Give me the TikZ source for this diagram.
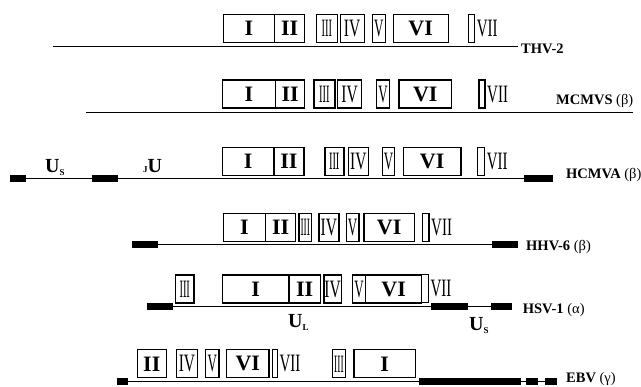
\documentclass[tikz,border=0pt]{standalone}
\usepackage{fontspec}
\setmainfont{Liberation Serif}
\usetikzlibrary{positioning}

\begin{document}
\begin{tikzpicture}[
    x=1pt, y=-1pt,
    gene/.style={draw, line width=1.2pt, anchor=north west, inner sep=0pt,
        minimum height=28pt},
    bnum/.style={gene, font=\fontsize{22}{22}\selectfont\bfseries},
    rnum/.style={gene, font=\fontsize{25}{25}\selectfont},
    tick/.style={gene, minimum width=6pt},
    seven/.style={inner sep=0pt, font=\fontsize{25}{25}\selectfont},
    vname/.style={anchor=base west, inner sep=0pt, font=\fontsize{14.5}{14.5}\selectfont\bfseries},
    ureg/.style={anchor=base west, inner sep=0pt, font=\fontsize{20}{20}\selectfont\bfseries},
    genome/.style={line width=1.3pt},
    rep/.style={line width=6.5pt}
]
\useasboundingbox (0,0) rectangle (641,387);

% THV-2
\draw[genome] (53,46.7) -- (518,46.7);
\node[bnum, minimum width=51.3pt] (thI) at (222.7,14) {I};
\node[bnum, minimum width=30pt] (thII) at (274,14) {II};
\node[rnum, minimum width=20.5pt] (thIII) at (316,14) {\scalebox{0.42}[1]{III}};
\node[rnum, minimum width=24pt] (thIV) at (339.5,14) {\scalebox{0.62}[1]{IV}};
\node[rnum, minimum width=12.5pt] (thV) at (372,14) {\scalebox{0.52}[1]{V}};
\node[bnum, minimum width=54.8pt] (thVI) at (392.7,14) {VI};
\node[tick] (thVII) at (468,14) {};
\node[seven, right=1.5pt of thVII] (thVIIt) {\scalebox{0.6}[1]{VII}};
\node[vname] (thName) at (521,53.3) {THV-2};

% MCMVS
\draw[genome] (86,112.7) -- (632.7,112.7);
\node[bnum, minimum width=53.3pt] (mcI) at (221.7,79.5) {I};
\node[bnum, minimum width=29pt] (mcII) at (275,79.5) {II};
\node[rnum, minimum width=21pt] (mcIII) at (313.3,79.5) {\scalebox{0.42}[1]{III}};
\node[rnum, minimum width=24pt] (mcIV) at (337,79.5) {\scalebox{0.62}[1]{IV}};
\node[rnum, minimum width=12.7pt] (mcV) at (376,79.5) {\scalebox{0.52}[1]{V}};
\node[bnum, minimum width=52.7pt] (mcVI) at (398.3,79.5) {VI};
\node[tick] (mcVII) at (478.3,79.5) {};
\node[seven, right=1.5pt of mcVII] (mcVIIt) {\scalebox{0.6}[1]{VII}};
\node[vname] (mcName) at (556,105) {MCMVS {\mdseries(β)}};

% HCMVA
\draw[genome] (10,178.3) -- (552.7,178.3);
\draw[rep] (10,178.3) -- (26,178.3);
\draw[rep] (91.7,178.3) -- (118.3,178.3);
\draw[rep] (524.3,178.3) -- (552.7,178.3);
\node[ureg] (hcUs) at (45,173) {U\raisebox{-3pt}{\small S}};
\node[ureg] (hcUl) at (143,173) {{\small J}U};
\node[bnum, minimum width=51.6pt] (hcI) at (221.7,146.7) {I};
\node[bnum, minimum width=30pt] (hcII) at (273.3,146.7) {II};
\node[rnum, minimum width=18.7pt, line width=1.8pt] (hcIII) at (324,146.7) {\scalebox{0.42}[1]{III}};
\node[rnum, minimum width=20pt] (hcIV) at (347.7,146.7) {\scalebox{0.62}[1]{IV}};
\node[rnum, minimum width=11.7pt] (hcV) at (382,146.7) {\scalebox{0.52}[1]{V}};
\node[bnum, minimum width=57.6pt] (hcVI) at (402.7,146.7) {VI};
\node[tick, minimum width=7pt] (hcVII) at (477,146.7) {};
\node[seven, right=1.5pt of hcVII] (hcVIIt) {\scalebox{0.6}[1]{VII}};
\node[vname] (hcName) at (566,179) {HCMVA {\mdseries(β)}};

% HHV-6
\draw[genome] (132.3,244.3) -- (517.7,244.3);
\draw[rep] (132.3,244.3) -- (158.3,244.3);
\draw[rep] (491.7,244.3) -- (517.7,244.3);
\node[bnum, minimum width=42.3pt] (hhI) at (222.7,212.7) {I};
\node[bnum, minimum width=30pt] (hhII) at (265,212.7) {II};
\node[rnum, minimum width=12.7pt] (hhIII) at (298.3,212.7) {\scalebox{0.38}[1]{III}};
\node[rnum, minimum width=20pt] (hhIV) at (318.3,212.7) {\scalebox{0.62}[1]{IV}};
\node[rnum, minimum width=12.6pt] (hhV) at (345.7,212.7) {\scalebox{0.52}[1]{V}};
\node[bnum, minimum width=50.4pt] (hhVI) at (363.3,212.7) {VI};
\node[tick, minimum width=6.6pt] (hhVII) at (421.7,212.7) {};
\node[seven, right=1.5pt of hhVII] (hhVIIt) {\scalebox{0.6}[1]{VII}};
\node[vname] (hhName) at (526,250.7) {HHV-6 {\mdseries(β)}};

% HSV-1
\draw[genome] (146.7,306.5) -- (511.7,306.5);
\draw[rep] (146.7,306.5) -- (173.3,306.5);
\draw[rep] (431,306.5) -- (467.7,306.5);
\draw[rep] (491,306.5) -- (511.7,306.5);
\node[rnum, minimum width=18.3pt] (hsIII) at (175,274.5) {\scalebox{0.42}[1]{III}};
\node[bnum, minimum width=66.6pt] (hsI) at (221.7,274.5) {I};
\node[bnum, minimum width=31.7pt] (hsII) at (288.3,274.5) {II};
\node[rnum, minimum width=17.4pt] (hsIV) at (323.3,274.5) {\scalebox{0.62}[1]{IV}};
\node[rnum, minimum width=13.3pt] (hsV) at (351.7,274.5) {\scalebox{0.52}[1]{V}};
\node[bnum, minimum width=56pt] (hsVI) at (365,274.5) {VI};
\node[tick, minimum width=7pt, line width=0.9pt] (hsVII) at (421,274.5) {};
\node[seven, right=1.5pt of hsVII] (hsVIIt) {\scalebox{0.6}[1]{VII}};
\node[ureg] (hsUl) at (288,328) {U\raisebox{-3pt}{\small L}};
\node[ureg] (hsUs) at (469,331) {U\raisebox{-3pt}{\small S}};
\node[vname] (hsName) at (522.7,314) {HSV-1 {\mdseries(α)}};

% EBV
\draw[genome] (116.7,381.7) -- (557,381.7);
\draw[rep] (116.7,381.7) -- (127.7,381.7);
\draw[rep] (419.3,381.7) -- (521,381.7);
\draw[rep] (526,381.7) -- (537.7,381.7);
\draw[rep] (545,381.7) -- (557,381.7);
\node[bnum, minimum width=29pt] (ebII) at (136.7,349.3) {II};
\node[rnum, minimum width=20.7pt] (ebIV) at (176,349.3) {\scalebox{0.62}[1]{IV}};
\node[rnum, minimum width=13.3pt] (ebV) at (205,349.3) {\scalebox{0.52}[1]{V}};
\node[bnum, minimum width=42.3pt] (ebVI) at (226,349.3) {VI};
\node[tick, minimum width=5pt] (ebVII) at (271.7,349.3) {};
\node[seven, right=1.5pt of ebVII] (ebVIIt) {\scalebox{0.6}[1]{VII}};
\node[rnum, minimum width=13.3pt] (ebIII) at (331.7,349.3) {\scalebox{0.38}[1]{III}};
\node[bnum, minimum width=61.7pt] (ebI) at (353.3,349.3) {I};
\node[vname] (ebName) at (566,383) {EBV {\mdseries(γ)}};

\end{tikzpicture}
\end{document}
